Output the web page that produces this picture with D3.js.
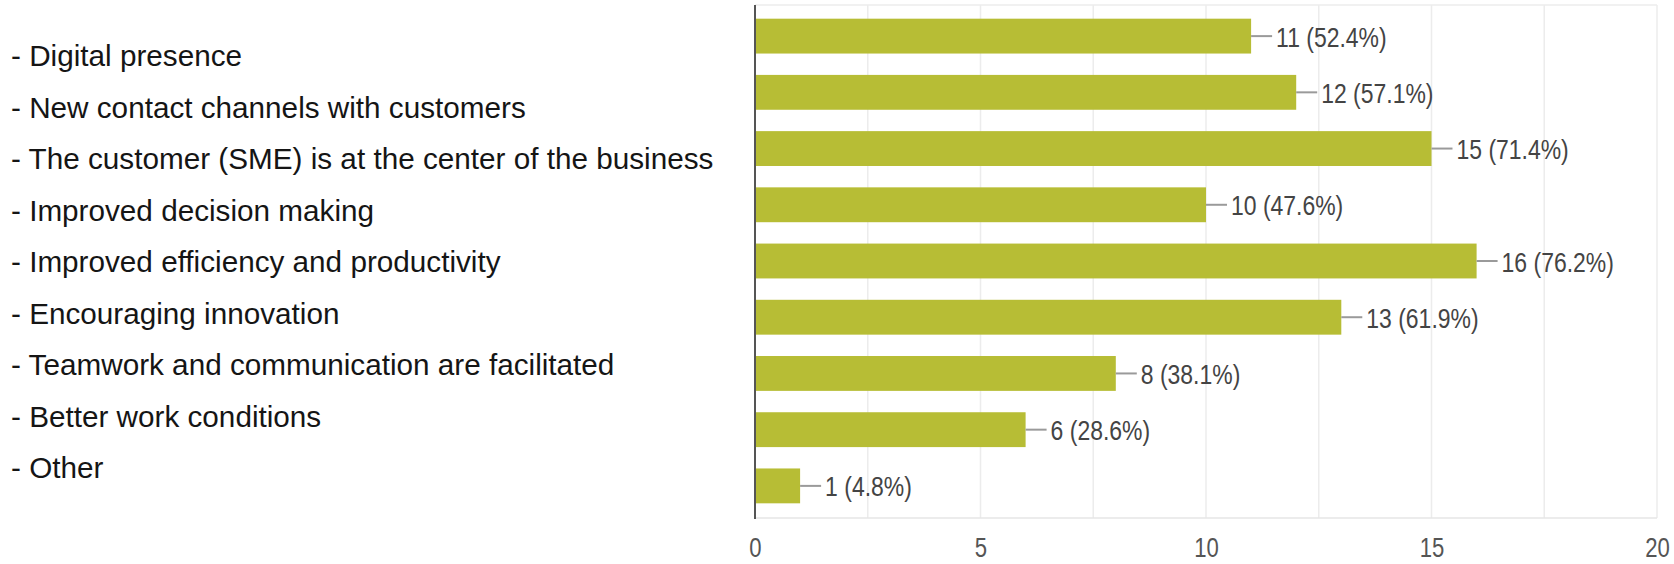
<!DOCTYPE html>
<html>
<head>
<meta charset="utf-8">
<script src="https://cdn.jsdelivr.net/npm/d3@7"></script>
<style>
  html, body { margin: 0; padding: 0; background: #fff; }
  svg { display: block; }
</style>
</head>
<body>
<svg id="chart" width="1674" height="564"></svg>
<script>
// Survey answers: perceived benefits of digital transformation
const categories = [
  "- Digital presence",
  "- New contact channels with customers",
  "- The customer (SME) is at the center of the business",
  "- Improved decision making",
  "- Improved efficiency and productivity",
  "- Encouraging innovation",
  "- Teamwork and communication are facilitated",
  "- Better work conditions",
  "- Other"
];
const counts = [11, 12, 15, 10, 16, 13, 8, 6, 1];
const percents = ["52.4%", "57.1%", "71.4%", "47.6%", "76.2%", "61.9%", "38.1%", "28.6%", "4.8%"];
const tickValues = [0, 5, 10, 15, 20];
const gridValues = [0, 2.5, 5, 7.5, 10, 12.5, 15, 17.5, 20];

const svg = d3.select("#chart");
const plot = { left: 755, right: 1657, top: 5, bottom: 518 };
const narrow = 0.82;
const font = "'Liberation Sans', Arial, sans-serif";

const x = d3.scaleLinear().domain([0, 20]).range([plot.left, plot.right]);
const y = d3.scaleBand().domain(categories)
  .range([8, 514]).paddingInner(0.38).paddingOuter(0.19);
const labelY = d3.scalePoint().domain(categories).range([66, 478]);

// light grid and frame
svg.append("g").selectAll("line").data(gridValues).join("line")
  .attr("x1", d => x(d)).attr("x2", d => x(d))
  .attr("y1", plot.top).attr("y2", plot.bottom)
  .attr("stroke", "#ececec").attr("stroke-width", 1.5);
svg.append("line")
  .attr("x1", plot.left).attr("x2", plot.right)
  .attr("y1", plot.top).attr("y2", plot.top)
  .attr("stroke", "#ececec").attr("stroke-width", 1.5);
svg.append("line")
  .attr("x1", plot.left).attr("x2", plot.right)
  .attr("y1", plot.bottom).attr("y2", plot.bottom)
  .attr("stroke", "#e6e6e6").attr("stroke-width", 1.5);

// bars
svg.append("g").selectAll("rect").data(categories).join("rect")
  .attr("x", x(0))
  .attr("y", d => y(d))
  .attr("width", (d, i) => x(counts[i]) - x(0))
  .attr("height", y.bandwidth())
  .attr("fill", "#b7bd35");

// leader lines and value labels
const vals = svg.append("g").selectAll("g").data(categories).join("g");
vals.append("line")
  .attr("x1", (d, i) => x(counts[i]))
  .attr("x2", (d, i) => x(counts[i]) + 21)
  .attr("y1", d => y(d) + y.bandwidth() / 2)
  .attr("y2", d => y(d) + y.bandwidth() / 2)
  .attr("stroke", "#9a9a9a").attr("stroke-width", 2);
vals.append("text")
  .attr("transform", (d, i) => `translate(${x(counts[i]) + 25},${y(d) + y.bandwidth() / 2 + 10.5}) scale(${narrow},1)`)
  .attr("font-family", font)
  .attr("font-size", 28)
  .attr("fill", "#444")
  .text((d, i) => `${counts[i]} (${percents[i]})`);

// left axis line
svg.append("line")
  .attr("x1", plot.left).attr("x2", plot.left)
  .attr("y1", plot.top).attr("y2", plot.bottom + 1)
  .attr("stroke", "#555").attr("stroke-width", 2);

// bottom tick labels
const xAxis = d3.axisBottom(x).tickValues(tickValues).tickSize(0).tickPadding(0).tickFormat(d3.format("d"));
const axisG = svg.append("g").attr("transform", `translate(0,${plot.bottom})`).call(xAxis);
axisG.select(".domain").remove();
axisG.selectAll(".tick text")
  .attr("dy", null)
  .attr("y", 0)
  .attr("transform", `translate(0,39) scale(${narrow},1)`)
  .attr("font-family", font)
  .attr("font-size", 27)
  .attr("fill", "#555");

// category list on the left
svg.append("g").selectAll("text").data(categories).join("text")
  .attr("x", 11)
  .attr("y", d => labelY(d))
  .attr("font-family", font)
  .attr("font-size", 29.7)
  .attr("fill", "#151515")
  .text(d => d);
</script>
</body>
</html>
